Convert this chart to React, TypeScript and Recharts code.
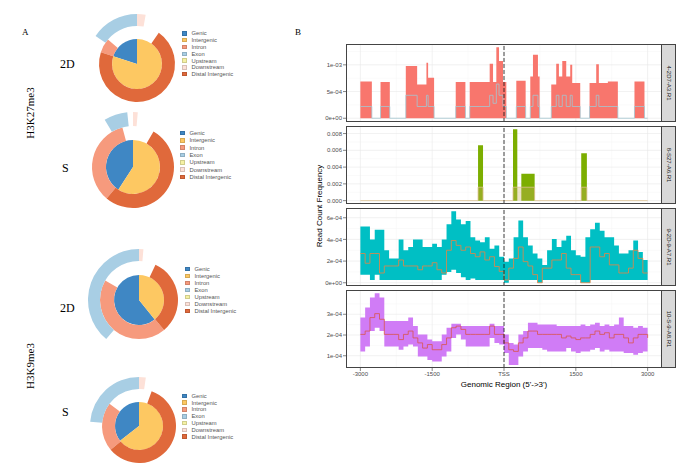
import React from 'react';
import { ComposedChart, Area, Line, XAxis, YAxis, ReferenceLine, CartesianGrid, PieChart, Pie, Cell } from 'recharts';

const SANS = '"Liberation Sans", Arial, sans-serif';
const SERIF = '"Liberation Serif", "Times New Roman", serif';

// ---- panel A: annotation donuts ----
const CATEGORIES = ['Genic', 'Intergenic', 'Intron', 'Exon', 'Upstream', 'Downstream', 'Distal Intergenic'];
const CAT_COLORS = ['#3f87c4', '#fdc862', '#f69a7d', '#a8cee4', '#f5f1a4', '#fde1d8', '#e0693b'];

// degrees, counter-clockwise from 12 o'clock; "gap" is empty
const H3K27_2D_INNER = [{ name: 'Genic', value: 72 }, { name: 'Intergenic', value: 288 }];
const H3K27_2D_MID = [{ name: 'gap', value: 50 }, { name: 'Intron', value: 22 }, { name: 'Distal Intergenic', value: 253 }, { name: 'gap', value: 35 }];
const H3K27_2D_OUT = [{ name: 'Exon', value: 56 }, { name: 'gap', value: 294 }, { name: 'Downstream', value: 10 }];

const H3K27_S_INNER = [{ name: 'Genic', value: 147 }, { name: 'Intergenic', value: 213 }];
const H3K27_S_MID = [{ name: 'gap', value: 15 }, { name: 'Intron', value: 125 }, { name: 'Distal Intergenic', value: 190 }, { name: 'gap', value: 30 }];
const H3K27_S_OUT = [{ name: 'gap', value: 6 }, { name: 'Exon', value: 25 }, { name: 'gap', value: 324 }, { name: 'Downstream', value: 5 }];

const H3K9_2D_INNER = [{ name: 'Genic', value: 219 }, { name: 'Intergenic', value: 141 }];
const H3K9_2D_MID = [{ name: 'gap', value: 60 }, { name: 'Intron', value: 160 }, { name: 'Distal Intergenic', value: 115 }, { name: 'gap', value: 25 }];
const H3K9_2D_OUT = [{ name: 'Exon', value: 140 }, { name: 'gap', value: 215 }, { name: 'Downstream', value: 5 }];

const H3K9_S_INNER = [{ name: 'Genic', value: 128 }, { name: 'Intergenic', value: 232 }];
const H3K9_S_MID = [{ name: 'gap', value: 53 }, { name: 'Intron', value: 77 }, { name: 'Distal Intergenic', value: 210 }, { name: 'gap', value: 20 }];
const H3K9_S_OUT = [{ name: 'Exon', value: 85 }, { name: 'gap', value: 267 }, { name: 'Downstream', value: 8 }];

// ---- panel B: average profiles ----
const X_TICKS = [-3000, -1500, 0, 1500, 3000];
const X_LABELS = ['-3000', '-1500', 'TSS', '1500', '3000'];
const X_MINOR = [-2250, -750, 750, 2250];

// 4-2D7-A3.R1 (x1e-4)
const P1_X = [-3000, -2760, -2579, -2385, -2051, -1814, -1620, -1585, -1460, -1008, -806, -716, -521, -299, -229, -160, -104, -21, 49, 257, 452, 549, 605, 709, 744, 987, 1091, 1147, 1217, 1300, 1383, 1425, 1592, 1787, 1926, 1981, 2169, 2378, 2725, 2934, 3000];
const P1_HI = [6.9, 0, 6.8, 0, 9.8, 6.3, 10.4, 7.6, 0, 6.8, 0, 6.8, 6.8, 10.2, 6.8, 13.3, 10.7, 6.8, 0, 7.0, 0, 7.8, 11.9, 7.8, 0, 6.3, 10.2, 7.8, 10.7, 7.8, 10.0, 6.6, 0, 6.6, 10.1, 6.6, 6.9, 0, 6.9, 0, 0];
const P1_MEAN = [2.2, 0, 2.2, 0, 4.3, 2.2, 4.3, 2.2, 0, 2.2, 0, 2.2, 2.2, 4.3, 2.8, 6.4, 4.3, 2.2, 0, 2.2, 0, 2.2, 4.3, 2.2, 0, 2.2, 4.3, 2.2, 4.3, 2.2, 4.3, 2.2, 0, 2.2, 4.3, 2.2, 2.2, 0, 2.2, 0, 0];

// 8-S27-A6.R1 (x1e-3)
const P2_X = [-3000, -542, -438, 188, 278, 362, 640, 1613, 1731, 3000];
const P2_HI = [0, 6.6, 0, 8.5, 0, 3.2, 0, 5.65, 0, 0];
const P2_MEAN = [0, 1.6, 0, 1.6, 1.6, 1.6, 0, 1.6, 0, 0];

// shared grid for the two dense profiles
const P34_X = [-3000, -2900, -2800, -2700, -2600, -2500, -2400, -2300, -2200, -2100, -2000, -1900, -1800, -1700, -1600, -1500, -1400, -1300, -1200, -1100, -1000, -900, -800, -700, -600, -500, -400, -300, -200, -100, 0, 100, 200, 300, 400, 500, 600, 700, 800, 900, 1000, 1100, 1200, 1300, 1400, 1500, 1600, 1700, 1800, 1900, 2000, 2100, 2200, 2300, 2400, 2500, 2600, 2700, 2800, 2900, 3000];

// 9-2D-9-A7.R1 (x1e-4)
const P3_HI = [5.2, 5.2, 4.0, 4.9, 4.9, 3.0, 2.25, 2.25, 4.0, 3.0, 3.3, 4.0, 4.0, 3.3, 3.3, 3.6, 3.3, 4.0, 5.4, 6.6, 5.85, 5.4, 5.7, 4.2, 3.9, 3.75, 4.2, 3.15, 3.45, 2.4, 1.95, 2.25, 4.2, 5.75, 4.2, 3.45, 2.7, 2.25, 1.65, 3.0, 4.05, 3.3, 3.9, 4.35, 3.0, 2.55, 2.4, 4.2, 4.95, 5.55, 4.8, 4.2, 4.2, 3.45, 2.7, 2.7, 3.0, 3.9, 2.85, 2.1, 2.1];
const P3_LO = [0.75, 0.75, 0.25, 0.75, 0.25, 0.25, 0.25, 0.25, 0.25, 0.25, 0.25, 0.25, 0.25, 0.25, 0.25, 0.25, 0.25, 0.75, 1.0, 1.2, 0.9, 0.5, 0.25, 0.4, 0.25, 0.25, 0.25, 0.25, 0.25, 0.25, 0, 0.25, 0.25, 0.25, 0.25, 0.25, 0.25, 0, 0.25, 0.25, 0.25, 0.25, 0.25, 0.25, 0.25, 0.25, 0, 0, 0.25, 0.25, 0.25, 0.25, 0.25, 0.25, 0.25, 0.25, 0.25, 0.25, 0.25, 0.25, 0.25];
const P3_MEAN = [2.7, 1.8, 2.7, 2.7, 0.9, 1.55, 1.55, 1.55, 2.1, 1.55, 1.55, 1.55, 1.2, 1.55, 1.55, 1.85, 1.2, 0.9, 3.0, 3.9, 3.45, 3.0, 3.3, 2.7, 2.4, 2.85, 2.1, 2.4, 1.5, 1.05, 0.25, 1.35, 2.25, 3.3, 1.95, 1.55, 0.75, 0, 1.35, 1.35, 2.1, 2.1, 2.7, 1.35, 0.75, 0.75, 0, 0, 3.3, 3.3, 2.4, 2.7, 1.65, 1.65, 0.9, 0.9, 1.35, 3.0, 2.25, 0.9, 0.9];

// 10-S-9-A8.R1 (x1e-4)
const P4_HI = [2.84, 3.33, 3.81, 4.01, 3.81, 2.67, 2.67, 2.67, 2.67, 2.67, 2.84, 2.43, 2.03, 2.03, 1.78, 1.7, 1.7, 2.03, 2.35, 2.54, 2.54, 2.43, 2.43, 2.43, 2.43, 2.43, 2.43, 2.54, 2.43, 2.43, 2.03, 1.62, 1.54, 2.03, 2.19, 2.59, 2.59, 2.51, 2.51, 2.51, 2.51, 2.43, 2.43, 2.43, 2.43, 2.43, 2.51, 2.43, 2.51, 2.59, 2.43, 2.51, 2.43, 2.51, 2.84, 2.43, 2.43, 2.35, 2.43, 2.35, 2.35];
const P4_LO = [1.21, 1.45, 2.19, 2.35, 2.19, 1.45, 1.45, 1.45, 1.29, 1.45, 1.54, 1.45, 0.97, 0.97, 0.8, 0.72, 0.72, 0.97, 1.21, 1.86, 2.03, 1.78, 1.45, 1.45, 1.45, 1.45, 1.45, 1.86, 1.62, 1.54, 1.13, 0.56, 0.56, 0.97, 1.21, 1.37, 1.37, 1.37, 1.29, 1.21, 1.21, 1.21, 1.21, 1.37, 1.21, 1.13, 1.21, 1.21, 1.29, 1.37, 1.21, 1.29, 1.21, 1.21, 1.21, 1.13, 1.13, 1.05, 1.13, 1.21, 1.21];
const P4_MEAN = [2.03, 2.19, 2.84, 3.03, 2.76, 2.03, 2.03, 2.03, 1.78, 2.03, 2.19, 1.86, 1.62, 1.37, 1.54, 1.29, 1.29, 1.54, 1.86, 2.35, 2.43, 2.27, 2.03, 2.03, 2.03, 2.03, 2.03, 2.43, 2.03, 2.03, 1.62, 1.29, 1.21, 1.62, 1.86, 2.19, 2.19, 2.03, 2.03, 2.03, 2.03, 2.03, 1.86, 1.95, 1.86, 1.78, 1.86, 1.86, 2.03, 2.19, 2.03, 2.11, 1.86, 2.03, 2.03, 1.86, 1.62, 1.86, 2.03, 2.03, 1.86];

const buildRows = (xs: number[], hi: number[], lo: number[] | null, mean: number[], scale: number) =>
  xs.map((x, i) => ({ x, band: [(lo ? lo[i] : 0) * scale, hi[i] * scale], mean: mean[i] * scale }));

const PANELS = [
  {
    label: '4-2D7-A3.R1', top: 44, rows: buildRows(P1_X, P1_HI, null, P1_MEAN, 1e-4),
    domain: [-0.00007, 0.00139], ticks: [0, 0.0005, 0.001], labels: ['0e+00', '5e-04', '1e-03'], minor: [0.00025, 0.00075, 0.00125],
    fill: '#F8766D', line: '#a3c6d2', meanFill: null,
  },
  {
    label: '8-S27-A6.R1', top: 126, rows: buildRows(P2_X, P2_HI, null, P2_MEAN, 1e-3),
    domain: [-0.0004, 0.0089], ticks: [0, 0.002, 0.004, 0.006, 0.008], labels: ['0.000', '0.002', '0.004', '0.006', '0.008'], minor: [0.001, 0.003, 0.005, 0.007],
    fill: '#7CAE00', line: '#dcc08f', meanFill: '#c8b060',
  },
  {
    label: '9-2D-9-A7.R1', top: 208, rows: buildRows(P34_X, P3_HI, P3_LO, P3_MEAN, 1e-4),
    domain: [-0.00003, 0.00069], ticks: [0, 0.0002, 0.0004, 0.0006], labels: ['0e+00', '2e-04', '4e-04', '6e-04'], minor: [0.0001, 0.0003, 0.0005],
    fill: '#00BFC4', line: '#ea8442', meanFill: null,
  },
  {
    label: '10-S-9-A8.R1', top: 290, rows: buildRows(P34_X, P4_HI, P4_LO, P4_MEAN, 1e-4),
    domain: [0.000041, 0.000417], ticks: [0.0001, 0.0002, 0.0003], labels: ['1e-04', '2e-04', '3e-04'], minor: [0.00015, 0.00025, 0.00035],
    fill: '#D07CF6', line: '#d9564c', meanFill: null,
  },
];

const PANEL_H = 78;

// label lookup that tolerates float noise in tick values
const nearestLabel = (ticks: number[], labels: string[], v: number) => {
  let best = 0;
  ticks.forEach((t, i) => { if (Math.abs(t - v) < Math.abs(ticks[best] - v)) best = i; });
  return labels[best];
};

function ProfilePanel({ p, showX }: { p: any; showX: boolean }) {
  const h = PANEL_H + (showX ? 14 : 0);
  return (
    <div style={{ position: 'absolute', left: 300, top: p.top }}>
      <ComposedChart width={362} height={h} data={p.rows} margin={{ top: 0, right: 0, bottom: 0, left: 0 }}>
        <CartesianGrid stroke="#f4f4f4" strokeWidth={0.5} verticalValues={X_MINOR} horizontalValues={p.minor} />
        <CartesianGrid stroke="#e8e8e8" strokeWidth={0.6} verticalValues={X_TICKS} horizontalValues={p.ticks} />
        <XAxis
          dataKey="x" type="number" domain={[-3300, 3300]} ticks={X_TICKS} interval={0}
          tickFormatter={(v: number) => nearestLabel(X_TICKS, X_LABELS, v)}
          hide={!showX} height={14} axisLine={false} tickSize={3} tickMargin={1}
          tickLine={{ stroke: '#333', strokeWidth: 0.6 }}
          tick={{ fontSize: 6, fill: '#4d4d4d', fontFamily: SANS }} allowDataOverflow
        />
        <YAxis
          type="number" domain={p.domain} ticks={p.ticks} interval={0}
          tickFormatter={(v: number) => nearestLabel(p.ticks, p.labels, v)}
          width={46} axisLine={false} tickSize={3} tickMargin={1}
          tickLine={{ stroke: '#333', strokeWidth: 0.6 }}
          tick={{ fontSize: 6, fill: '#4d4d4d', fontFamily: SANS }} allowDataOverflow
        />
        <Area dataKey="band" type="stepAfter" fill={p.fill} fillOpacity={1} stroke="none" isAnimationActive={false} />
        {p.meanFill ? (
          <Area dataKey="mean" type="stepAfter" fill={p.meanFill} fillOpacity={0.35} stroke={p.line} strokeWidth={0.8} isAnimationActive={false} />
        ) : (
          <Line dataKey="mean" type="stepAfter" stroke={p.line} strokeWidth={0.8} dot={false} isAnimationActive={false} />
        )}
        <ReferenceLine x={0} stroke="#111" strokeWidth={0.8} strokeDasharray="4 2" />
      </ComposedChart>
      <div style={{ position: 'absolute', left: 46, top: 0, width: 316, height: PANEL_H, border: '1px solid #444', boxSizing: 'border-box', pointerEvents: 'none' }} />
      <div style={{ position: 'absolute', left: 361, top: 0, width: 15, height: PANEL_H, background: '#d9d9d9', border: '1px solid #444', boxSizing: 'border-box' }}>
        <div style={{ position: 'absolute', left: '50%', top: '50%', transform: 'translate(-50%, -50%) rotate(90deg)', whiteSpace: 'nowrap', fontSize: 6, fontFamily: SANS, color: '#1a1a1a' }}>
          {p.label}
        </div>
      </div>
    </div>
  );
}

const colorOf = (name: string) => (name === 'gap' ? 'transparent' : CAT_COLORS[CATEGORIES.indexOf(name)]);

const DONUTS = [
  { cx: 137, cy: 64, r: [25, 38, 50], inner: H3K27_2D_INNER, mid: H3K27_2D_MID, out: H3K27_2D_OUT, legend: { x: 182, y: 30, step: 6.8 }, tag: '2D', tagX: 60, tagY: 57 },
  { cx: 133, cy: 167, r: [27, 41, 55], inner: H3K27_S_INNER, mid: H3K27_S_MID, out: H3K27_S_OUT, legend: { x: 180, y: 129.5, step: 7.3 }, tag: 'S', tagX: 62, tagY: 161 },
  { cx: 139, cy: 300, r: [25, 39, 51], inner: H3K9_2D_INNER, mid: H3K9_2D_MID, out: H3K9_2D_OUT, legend: { x: 185, y: 265.5, step: 7 }, tag: '2D', tagX: 60, tagY: 301 },
  { cx: 139, cy: 426, r: [24, 37, 49], inner: H3K9_S_INNER, mid: H3K9_S_MID, out: H3K9_S_OUT, legend: { x: 182, y: 392.5, step: 6.8 }, tag: 'S', tagX: 62, tagY: 405 },
];

function Ring({ data, ri, ro }: { data: any[]; ri: number; ro: number }) {
  return (
    <Pie data={data} dataKey="value" cx={60} cy={60} innerRadius={ri} outerRadius={ro} startAngle={90} endAngle={450} stroke="none" isAnimationActive={false}>
      {data.map((d, i) => <Cell key={i} fill={colorOf(d.name)} stroke="none" />)}
    </Pie>
  );
}

function Donut({ d }: { d: any }) {
  return (
    <>
      <div style={{ position: 'absolute', left: d.cx - 60, top: d.cy - 60 }}>
        <PieChart width={120} height={120} margin={{ top: 0, right: 0, bottom: 0, left: 0 }}>
          <Ring data={d.inner} ri={0} ro={d.r[0]} />
          <Ring data={d.mid} ri={d.r[0]} ro={d.r[1]} />
          <Ring data={d.out} ri={d.r[1]} ro={d.r[2]} />
        </PieChart>
      </div>
      <div style={{ position: 'absolute', left: d.legend.x, top: d.legend.y, fontFamily: SANS, fontSize: 5.8, color: '#555' }}>
        {CATEGORIES.map((c, i) => (
          <div key={c} style={{ display: 'flex', alignItems: 'center', height: d.legend.step, whiteSpace: 'nowrap' }}>
            <span style={{ width: 4.5, height: 4.5, background: CAT_COLORS[i], marginRight: 5, boxSizing: 'border-box', border: '0.5px solid rgba(0,0,0,0.15)' }} />
            {c}
          </div>
        ))}
      </div>
      <div style={{ position: 'absolute', left: d.tagX, top: d.tagY, fontFamily: SERIF, fontSize: 12, color: '#000' }}>{d.tag}</div>
    </>
  );
}

export default function App() {
  return (
    <div style={{ position: 'absolute', left: 0, top: 0, width: 690, height: 468, background: '#fff', overflow: 'hidden' }}>
      <div style={{ position: 'absolute', left: 22, top: 27, fontFamily: SERIF, fontSize: 9 }}>A</div>
      <div style={{ position: 'absolute', left: 295, top: 27, fontFamily: SERIF, fontSize: 9 }}>B</div>
      <div style={{ position: 'absolute', left: 30, top: 113, transform: 'translate(-50%, -50%) rotate(-90deg)', fontFamily: SERIF, fontSize: 11, whiteSpace: 'nowrap' }}>H3K27me3</div>
      <div style={{ position: 'absolute', left: 30, top: 366, transform: 'translate(-50%, -50%) rotate(-90deg)', fontFamily: SERIF, fontSize: 11, whiteSpace: 'nowrap' }}>H3K9me3</div>
      {DONUTS.map((d, i) => <Donut key={i} d={d} />)}
      {PANELS.map((p, i) => <ProfilePanel key={p.label} p={p} showX={i === PANELS.length - 1} />)}
      <div style={{ position: 'absolute', left: 319, top: 206, transform: 'translate(-50%, -50%) rotate(-90deg)', fontFamily: SANS, fontSize: 8, whiteSpace: 'nowrap', color: '#000' }}>Read Count Frequency</div>
      <div style={{ position: 'absolute', left: 504, top: 384, transform: 'translate(-50%, -50%)', fontFamily: SANS, fontSize: 8, whiteSpace: 'nowrap', color: '#000' }}>Genomic Region (5'-&gt;3')</div>
    </div>
  );
}
